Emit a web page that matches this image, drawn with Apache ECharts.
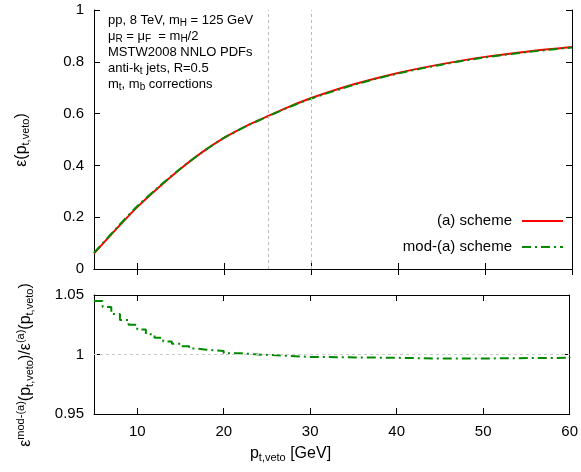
<!DOCTYPE html>
<html><head><meta charset="utf-8">
<script src="https://cdn.jsdelivr.net/npm/echarts@6/dist/echarts.min.js"></script>
<style>html,body{margin:0;background:#fff}#c{width:581px;height:472px}</style>
</head><body><div id="c"></div>
<script>
const ptveto = [5,7.5,10,12.5,15,17.5,20,22.5,25,27.5,30,35,40,45,50,55,60];
const effA   = [0.06,0.152,0.24,0.317,0.388,0.452,0.507,0.552,0.590,0.627,0.660,0.714,0.757,0.791,0.819,0.840,0.857];
const effMod = [0.062,0.155,0.243,0.319,0.389,0.452,0.507,0.551,0.589,0.626,0.658,0.712,0.755,0.789,0.817,0.838,0.855];
const ratioX = [5,6,7,8,9,10,11,12,13,14,15,16,17,18,20,22,24,27,30,40,45,50,53,60];
const ratio  = [1.045,1.040,1.034,1.029,1.025,1.021,1.017,1.014,1.011,1.009,1.007,1.005,1.004,1.003,1.001,1.000,0.999,0.998,0.9972,0.9966,0.9966,0.9969,0.9972,0.998];
const xTicks = [10,20,30,40,50,60];
const topTicks = [0,0.2,0.4,0.6,0.8,1];
const botTicks = [0.95,1,1.05];
const F = 'Liberation Sans, Arial, sans-serif';
const RED='#ff0000', GREEN='#008a00';
const zip = (a,b)=>a.map((v,i)=>[v,b[i]]);
const ax = (gi,show,pos)=>({type:'value',gridIndex:gi,min:5,max:60,position:pos,
  axisLine:{show:true,lineStyle:{color:'#000'}},splitLine:{show:false},
  axisTick:{show:true,inside:true,length:6,customValues:xTicks,lineStyle:{color:'#000'}},
  axisLabel:{show:show,customValues:xTicks,color:'#000',fontSize:15,fontFamily:F,margin:10}});
const ay = (gi,min,max,ticks,show,pos,fmt)=>({type:'value',gridIndex:gi,min:min,max:max,position:pos,
  axisLine:{show:true,lineStyle:{color:'#000'}},splitLine:{show:false},
  axisTick:{show:true,inside:true,length:6,customValues:ticks,lineStyle:{color:'#000'}},
  axisLabel:{show:show,customValues:ticks,color:'#000',fontSize:15,fontFamily:F,margin:10,formatter:fmt}});
const ch = echarts.init(document.getElementById('c'));
ch.setOption({
  animation:false,
  grid:[{left:94,right:9,top:10,height:259},{left:94,right:9,top:295,height:119}],
  xAxis:[ax(0,false,'bottom'),ax(0,false,'top'),ax(1,true,'bottom'),ax(1,false,'top')],
  yAxis:[ay(0,0,1,topTicks,true,'left',v=>v===0||v===1?String(v):v.toFixed(1)),
         ay(0,0,1,topTicks,false,'right'),
         ay(1,0.95,1.05,botTicks,true,'left',v=>Math.abs(v-1)<1e-9?'1':v.toFixed(2)),
         ay(1,0.95,1.05,botTicks,false,'right')],
  series:[
    {name:'(a) scheme',type:'line',xAxisIndex:0,yAxisIndex:0,data:zip(ptveto,effA),smooth:0.3,showSymbol:false,
     lineStyle:{color:RED,width:2},itemStyle:{color:RED},
     markLine:{silent:true,symbol:'none',label:{show:false},lineStyle:{color:'#bbb',type:[3,3],width:1},data:[{xAxis:25},{xAxis:30}]}},
    {name:'mod-(a) scheme',type:'line',xAxisIndex:0,yAxisIndex:0,data:zip(ptveto,effMod),smooth:0.3,showSymbol:false,
     lineStyle:{color:GREEN,width:2,type:[9,4,2,4]},itemStyle:{color:GREEN}},
    {name:'ratio',type:'line',xAxisIndex:2,yAxisIndex:2,data:zip(ratioX,ratio),step:'end',showSymbol:false,
     lineStyle:{color:GREEN,width:2,type:[9,4,2,4]},itemStyle:{color:GREEN},
     markLine:{silent:true,symbol:'none',label:{show:false},lineStyle:{color:'#ccc',type:[3,3],width:1},data:[{yAxis:1}]}}
  ],
  graphic:[
    {type:'text',left:108,top:12,style:{fontFamily:F,fontSize:13,fill:'#000',lineHeight:16,
      text:'pp, 8 TeV, m{s|H} = 125 GeV\nμ{s|R} = μ{s|F}  = m{s|H}/2\nMSTW2008 NNLO PDFs\nanti-k{s|t} jets, R=0.5\nm{s|t}, m{s|b} corrections',
      rich:{s:{fontSize:10,verticalAlign:'bottom',padding:[6,0,0,0],fontFamily:F}}}},
    {type:'text',x:512,y:221,style:{fontFamily:F,fontSize:15,fill:'#000',align:'right',verticalAlign:'middle',text:'(a) scheme'}},
    {type:'text',x:512,y:247,style:{fontFamily:F,fontSize:15,fill:'#000',align:'right',verticalAlign:'middle',text:'mod-(a) scheme'}},
    {type:'line',shape:{x1:522,y1:221,x2:563,y2:221},style:{stroke:RED,lineWidth:2}},
    {type:'line',shape:{x1:522,y1:247,x2:563,y2:247},style:{stroke:GREEN,lineWidth:2,lineDash:[9,4,2,4]}},
    {type:'text',x:22,y:140,rotation:Math.PI/2,style:{fontFamily:F,fontSize:16,fill:'#000',align:'center',verticalAlign:'middle',
      text:'ε(p{s|t,veto})',rich:{s:{fontSize:11,padding:[8,0,0,0],fontFamily:F}}}},
    {type:'text',x:26,y:365,rotation:Math.PI/2,style:{fontFamily:F,fontSize:16,fill:'#000',align:'center',verticalAlign:'middle',
      text:'ε{u|mod-(a)}(p{s|t,veto})/ε{u|(a)}(p{s|t,veto})',rich:{s:{fontSize:11,padding:[8,0,0,0],fontFamily:F},u:{fontSize:11,padding:[0,0,10,0],fontFamily:F}}}},
    {type:'text',left:'center',top:446,style:{fontFamily:F,fontSize:16,fill:'#000',
      text:'p{s|t,veto} [GeV]',rich:{s:{fontSize:11,padding:[8,0,0,0],fontFamily:F}}}}
  ]
});
</script></body></html>
